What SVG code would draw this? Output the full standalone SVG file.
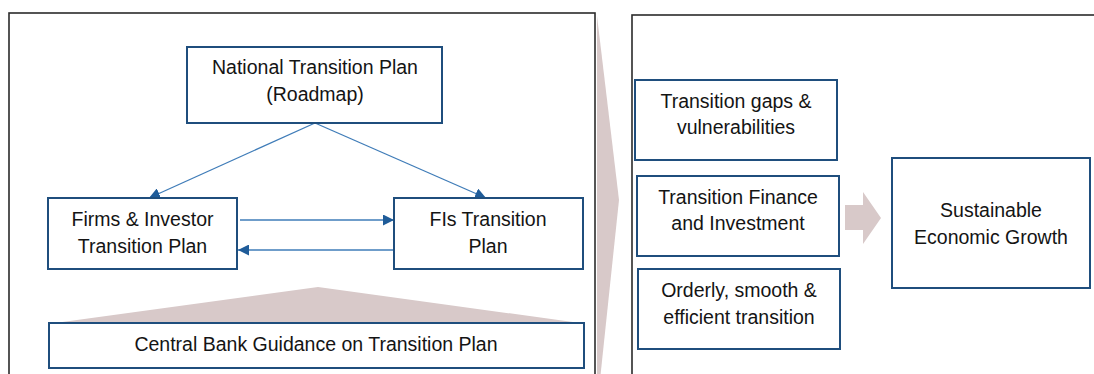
<svg xmlns="http://www.w3.org/2000/svg" width="1094" height="374" viewBox="0 0 1094 374">
<defs>
<style>
.frame{fill:#fff;stroke:#2b2b2b;stroke-width:1.6}
.box{fill:#fff;stroke:#1f4e7d;stroke-width:2}
.t{font-family:"Liberation Sans",Arial,sans-serif;font-size:19.5px;fill:#141414;text-anchor:middle}
.con{stroke:#3f7cb8;stroke-width:1.3;fill:none}
.pink{fill:#d8c9c9}
</style>
<marker id="ah" viewBox="0 0 10 10" refX="10" refY="5" markerWidth="11" markerHeight="11" markerUnits="userSpaceOnUse" orient="auto">
<path d="M0,0 L10,5 L0,10 z" fill="#1f5c99"/>
</marker>
</defs>
<rect width="1094" height="374" fill="#fff"/>
<g id="left-frame"><rect class="frame" x="9" y="13" width="586" height="380"/></g>
<g id="right-frame"><rect class="frame" x="632" y="15" width="480" height="380"/></g>
<g id="chevron"><polygon class="pink" points="597,16 619,200 600,380 597,380"/></g>
<g id="guidance-triangle"><polygon class="pink" points="55,323 318,287 580,323"/></g>
<g id="connectors">
<line class="con" x1="315" y1="123" x2="149" y2="198" marker-end="url(#ah)"/>
<line class="con" x1="315" y1="123" x2="486" y2="198" marker-end="url(#ah)"/>
<line class="con" x1="240" y1="220" x2="394" y2="220" marker-end="url(#ah)"/>
<line class="con" x1="393" y1="250" x2="238" y2="250" marker-end="url(#ah)"/>
</g>
<g id="national"><rect class="box" x="187" y="47" width="255" height="76"/>
<text class="t" x="315" y="74">National Transition Plan</text>
<text class="t" x="315" y="101">(Roadmap)</text></g>
<g id="firms"><rect class="box" x="48" y="198" width="189" height="71"/>
<text class="t" x="142.5" y="226">Firms &amp; Investor</text>
<text class="t" x="142.5" y="253">Transition Plan</text></g>
<g id="fis"><rect class="box" x="394" y="198" width="189" height="71"/>
<text class="t" x="488" y="226">FIs Transition</text>
<text class="t" x="488" y="253">Plan</text></g>
<g id="central-bank"><rect class="box" x="49" y="323" width="535" height="45"/>
<text class="t" x="316" y="351">Central Bank Guidance on Transition Plan</text></g>
<g id="gaps"><rect class="box" x="635" y="80" width="202" height="80"/>
<text class="t" x="736" y="108">Transition gaps &amp;</text>
<text class="t" x="736" y="134">vulnerabilities</text></g>
<g id="finance"><rect class="box" x="637" y="176" width="202" height="80"/>
<text class="t" x="738" y="204">Transition Finance</text>
<text class="t" x="738" y="230">and Investment</text></g>
<g id="orderly"><rect class="box" x="638" y="269" width="202" height="80"/>
<text class="t" x="739" y="297">Orderly, smooth &amp;</text>
<text class="t" x="739" y="324">efficient transition</text></g>
<g id="block-arrow"><polygon class="pink" points="845,205 863,205 863,192 881,218 863,244 863,230 845,230"/></g>
<g id="growth"><rect class="box" x="892" y="158" width="198" height="130"/>
<text class="t" x="991" y="217">Sustainable</text>
<text class="t" x="991" y="244">Economic Growth</text></g>
</svg>
